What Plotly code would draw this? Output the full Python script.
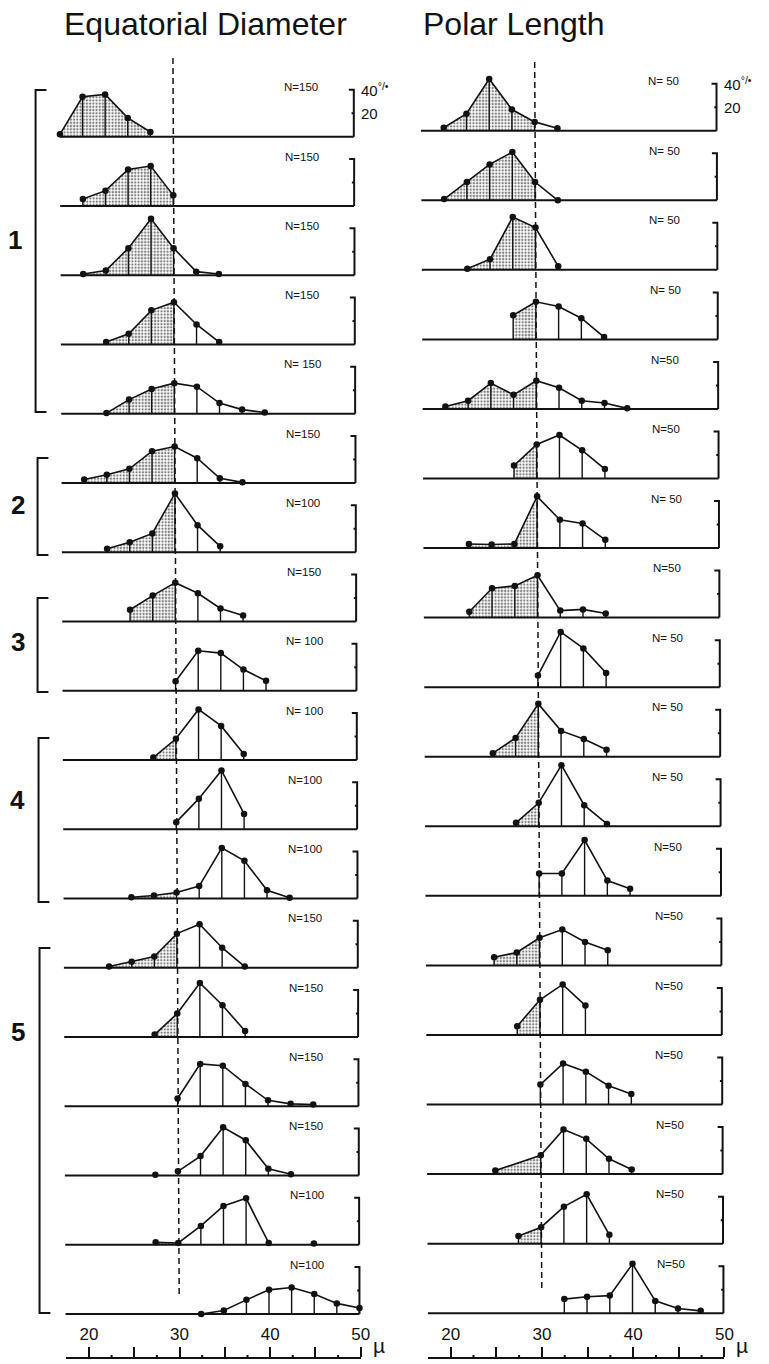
import plotly.graph_objects as go

W, H = 769, 1364

# ---------------- data (percent of grains per size class, microns) ----------------
eq_x = [
    [17.5, 20, 22.5, 25, 27.5],
    [20, 22.5, 25, 27.5, 30],
    [20, 22.5, 25, 27.5, 30, 32.5, 35],
    [22.5, 25, 27.5, 30, 32.5, 35],
    [22.5, 25, 27.5, 30, 32.5, 35, 37.5, 40],
    [20, 22.5, 25, 27.5, 30, 32.5, 35, 37.5],
    [22.5, 25, 27.5, 30, 32.5, 35],
    [25, 27.5, 30, 32.5, 35, 37.5],
    [30, 32.5, 35, 37.5, 40],
    [27.5, 30, 32.5, 35, 37.5],
    [30, 32.5, 35, 37.5],
    [25, 27.5, 30, 32.5, 35, 37.5, 40, 42.5],
    [22.5, 25, 27.5, 30, 32.5, 35, 37.5],
    [27.5, 30, 32.5, 35, 37.5],
    [30, 32.5, 35, 37.5, 40, 42.5, 45],
    [27.5, None, 30, 32.5, 35, 37.5, 40, 42.5],
    [27.5, 30, 32.5, 35, 37.5, 40, None, 45],
    [32.5, 35, 37.5, 40, 42.5, 45, 47.5, 50],
]
eq_y = [
    [2, 34, 36, 16, 4],
    [6, 13, 31, 34, 9],
    [1, 4, 23, 48, 23, 3, 1],
    [2, 9, 29, 36, 17, 2],
    [0.5, 12, 21, 26, 23, 9, 3.5, 1],
    [3, 7, 12, 27, 31, 21, 4, 0.5],
    [3, 8.5, 16, 50, 23, 5],
    [10, 22, 33, 24, 11, 5],
    [8, 34, 32, 18, 8.5],
    [2, 18, 43, 29, 5],
    [6, 26, 50, 13],
    [1, 2.5, 5, 10.5, 43, 32, 7, 0.5],
    [1, 5, 9.5, 29, 37, 17, 1],
    [2, 20, 46, 27, 5],
    [6.5, 36, 34.5, 19, 5, 2, 1.5],
    [0.5, None, 3.5, 16.5, 41, 30, 5.7, 1],
    [2, 1.5, 16, 33, 39.5, 1.5, None, 1],
    [0, 3, 12, 20.5, 22.5, 17, 9, 5],
]
eq_n = ["N=150", "N=150", "N=150", "N=150", "N= 150", "N=150", "N=100", "N=150",
        "N= 100", "N= 100", "N=100", "N=100", "N=150", "N=150", "N=150", "N=150",
        "N=100", "N=100"]

pl_x = [
    [20, 22.5, 25, 27.5, 30, 32.5],
    [20, 22.5, 25, 27.5, 30, 32.5],
    [22.5, 25, 27.5, 30, 32.5],
    [27.5, 30, 32.5, 35, 37.5],
    [20, 22.5, 25, 27.5, 30, 32.5, 35, 37.5, 40],
    [27.5, 30, 32.5, 35, 37.5],
    [22.5, 25, 27.5, 30, 32.5, 35, 37.5],
    [22.5, 25, 27.5, 30, 32.5, 35, 37.5],
    [30, 32.5, 35, 37.5],
    [25, 27.5, 30, 32.5, 35, 37.5],
    [27.5, 30, 32.5, 35, 37.5],
    [30, 32.5, 35, 37.5, 40],
    [25, 27.5, 30, 32.5, 35, 37.5],
    [27.5, 30, 32.5, 35],
    [30, 32.5, 35, 37.5, 40],
    [25, 30, 32.5, 35, 37.5, 40],
    [27.5, 30, 32.5, 35, 37.5],
    [32.5, 35, 37.5, 40, 42.5, 45, 47.5],
]
pl_y = [
    [2.5, 14.5, 44, 18, 7.5, 2],
    [1, 15.5, 30.5, 41, 15.5, 0],
    [1, 9, 45, 36, 3],
    [20.5, 32, 28, 18, 2],
    [2, 7, 22, 12, 24, 18, 7, 5, 0.5],
    [11, 29, 37, 24, 8],
    [3.5, 3, 3.5, 44, 24, 21, 7],
    [5, 25, 27, 36, 6, 7, 3.5],
    [10, 47, 33, 12],
    [3, 16, 45, 22, 15, 6],
    [3, 20, 52, 18, 2],
    [19, 19, 47.5, 13, 6],
    [7, 11, 23.5, 30.5, 20, 13],
    [7.5, 30, 43, 25],
    [17, 35, 28, 16, 9],
    [3, 16, 38, 30, 13, 4],
    [6.5, 14, 31.5, 42, 7.5],
    [12, 14, 15, 42, 10.5, 4, 2],
]
pl_n = ["N= 50", "N= 50", "N= 50", "N= 50", "N=50", "N=50", "N= 50", "N=50", "N= 50",
        "N= 50", "N= 50", "N=50", "N=50", "N=50", "N=50", "N=50", "N=50", "N=50"]

titles = ["Equatorial Diameter", "Polar Length"]
groups = ["1", "2", "3", "4", "5"]
label_ticks = [20, 30, 40, 50]
mid_ticks = [25, 35, 45]
small_ticks = [22.5, 27.5, 32.5, 37.5, 42.5, 47.5]
SPLIT = 30  # stippled below this size

# ---------------- geometry (page pixels) ----------------
INK = "#121212"
FONT = "Liberation Sans, Arial, sans-serif"
cols = [
    dict(base0=136.7, step=69.25, x30_top=175.0, x30_bot=180.7, s=9.15),
    dict(base0=130.7, step=69.56, x30_top=541.0, x30_bot=548.0, s=9.2),
]
PPCT = 1.175
XR = (15.0, 52.0)
YR = (-4.0, 54.0)
NR = 18


def px(xp):
    return xp / W


def py(yp):
    return 1 - yp / H


fig = go.Figure()
layout = {}
shapes = []
annotations = []

datasets = [(eq_x, eq_y, eq_n), (pl_x, pl_y, pl_n)]

for c in range(2):
    g = cols[c]
    xs_all, ys_all, ns = datasets[c]
    for i in range(NR):
        k = i * 2 + c + 1
        xn = "x" if k == 1 else f"x{k}"
        yn = "y" if k == 1 else f"y{k}"
        xa = "xaxis" if k == 1 else f"xaxis{k}"
        ya = "yaxis" if k == 1 else f"yaxis{k}"
        x30 = g["x30_top"] + (g["x30_bot"] - g["x30_top"]) * i / (NR - 1)
        base = g["base0"] + g["step"] * i
        s = g["s"]
        dx = [px(x30 + (XR[0] - 30) * s), px(x30 + (XR[1] - 30) * s)]
        dy = [py(base - YR[0] * PPCT), py(base - YR[1] * PPCT)]
        layout[xa] = dict(domain=dx, range=list(XR), visible=False, fixedrange=True, anchor=yn)
        layout[ya] = dict(domain=dy, range=list(YR), visible=False, fixedrange=True, anchor=xn)

        xs, ys = xs_all[i], ys_all[i]
        segs, cur = [], []
        for a, b in zip(xs, ys):
            if a is None:
                if cur:
                    segs.append(cur)
                cur = []
            else:
                cur.append((a, b))
        if cur:
            segs.append(cur)
        # stippled fill (part below SPLIT)
        for seg in segs:
            pts = [p for p in seg if p[0] <= SPLIT]
            if len(pts) >= 2:
                fig.add_trace(go.Scatter(
                    x=[p[0] for p in pts], y=[p[1] for p in pts], xaxis=xn, yaxis=yn,
                    mode="none", fill="tozeroy", fillcolor="white",
                    fillpattern=dict(shape=".", fgcolor="#000000", bgcolor="white",
                                     size=3.2, solidity=0.42),
                    hoverinfo="skip", showlegend=False))
        # vertical drop lines
        vx, vy = [], []
        for seg in segs:
            for a, b in seg:
                vx += [a, a, None]
                vy += [0, b, None]
        fig.add_trace(go.Scatter(x=vx, y=vy, xaxis=xn, yaxis=yn, mode="lines",
                                 line=dict(color=INK, width=1.4), hoverinfo="skip",
                                 showlegend=False))
        # frequency polygon
        fig.add_trace(go.Scatter(x=xs, y=ys, xaxis=xn, yaxis=yn, mode="lines+markers",
                                 connectgaps=False, cliponaxis=False,
                                 line=dict(color=INK, width=1.6),
                                 marker=dict(color=INK, size=6.5),
                                 hoverinfo="skip", showlegend=False))
        # baseline and percent bracket
        shapes.append(dict(type="line", xref=xn, yref=yn, x0=17.5, x1=50, y0=0, y1=0,
                           line=dict(color=INK, width=2)))
        shapes.append(dict(type="path", xref=xn, yref=yn,
                           path="M 49.45 40 L 50 40 L 50 0",
                           line=dict(color=INK, width=2)))
        shapes.append(dict(type="line", xref=xn, yref=yn, x0=49.75, x1=50, y0=20, y1=20,
                           line=dict(color=INK, width=2)))
        annotations.append(dict(xref=xn, yref=yn, x=44.2, y=42, text=ns[i], showarrow=False,
                                xanchor="center", yanchor="middle",
                                font=dict(family=FONT, size=11.5, color=INK)))
        if i == 0:
            annotations.append(dict(xref=xn, yref=yn, x=50.55, y=40, xanchor="left",
                                    yanchor="middle", text="40<sup>°/•</sup>", showarrow=False,
                                    font=dict(family=FONT, size=15, color=INK)))
            annotations.append(dict(xref=xn, yref=yn, x=50.55, y=20, xanchor="left",
                                    yanchor="middle", text="20", showarrow=False,
                                    font=dict(family=FONT, size=15, color=INK)))

# ---------------- bottom scale axes ----------------
bottom = [
    dict(k=37, x0=67.1, x1=365.0, line=1359),
    dict(k=38, x0=432.9, x1=733.0, line=1359),
]
for b in bottom:
    k = b["k"]
    layout[f"xaxis{k}"] = dict(
        domain=[px(b["x0"]), px(b["x1"])], range=[17.5, 50], anchor=f"y{k}", side="top",
        showline=True, linecolor=INK, linewidth=2, showgrid=False, zeroline=False,
        ticks="outside", ticklen=10, tickwidth=2, tickcolor=INK,
        tickvals=label_ticks, ticktext=[str(v) for v in label_ticks],
        tickfont=dict(family=FONT, size=17, color=INK),
        minor=dict(tickvals=mid_ticks, ticks="outside", ticklen=10, tickwidth=2,
                   tickcolor=INK, showgrid=False),
        fixedrange=True)
    layout[f"yaxis{k}"] = dict(domain=[py(b["line"] + 4), py(b["line"])], range=[0, 1],
                               visible=False, anchor=f"x{k}", fixedrange=True)
    fig.add_trace(go.Scatter(x=[30], y=[0.5], xaxis=f"x{k}", yaxis=f"y{k}", mode="markers",
                             marker=dict(opacity=0), hoverinfo="skip", showlegend=False))
    for t in small_ticks:
        shapes.append(dict(type="line", xref=f"x{k}", yref="paper", x0=t, x1=t,
                           y0=py(b["line"]), y1=py(b["line"] - 4),
                           line=dict(color=INK, width=2)))
    annotations.append(dict(xref="paper", yref="paper", x=px(b["x1"] + 10),
                            y=py(b["line"] - 14), xanchor="left", yanchor="middle",
                            text="µ", showarrow=False,
                            font=dict(family=FONT, size=21, color=INK)))

# ---------------- dashed 30 µ reference lines ----------------
for (xt, yt, xb, yb) in [(175.0, 58, 181.3, 1296), (541.0, 62, 548.2, 1292)]:
    shapes.append(dict(type="line", xref="paper", yref="paper",
                       x0=px(xt), y0=py(yt), x1=px(xb), y1=py(yb),
                       line=dict(color=INK, width=1.5, dash="6px,4px")))

# ---------------- titles ----------------
for t, cx in zip(titles, [208, 520]):
    annotations.append(dict(xref="paper", yref="paper", x=px(cx), y=py(24), text=t,
                            xanchor="center", yanchor="middle",
                            showarrow=False, font=dict(family=FONT, size=32, color=INK)))

# ---------------- group brackets ----------------
brackets = [(36, 90, 412, 15, 240), (38, 458, 555, 18, 505), (38, 598, 692, 18, 642),
            (39, 738, 902, 18, 800), (40, 948, 1313, 18, 1032)]
for g_lbl, (bx, bt, bb, lx, ly) in zip(groups, brackets):
    shapes.append(dict(type="path", xref="paper", yref="paper",
                       path=f"M {px(bx + 11)} {py(bt)} L {px(bx)} {py(bt)} L {px(bx)} {py(bb)} L {px(bx + 11)} {py(bb)}",
                       line=dict(color=INK, width=2)))
    annotations.append(dict(xref="paper", yref="paper", x=px(lx), y=py(ly), text=f"<b>{g_lbl}</b>",
                            xanchor="center", yanchor="middle",
                            showarrow=False, font=dict(family=FONT, size=26, color=INK)))

fig.update_layout(
    width=W, height=H, margin=dict(l=0, r=0, t=0, b=0),
    paper_bgcolor="white", plot_bgcolor="rgba(0,0,0,0)",
    showlegend=False, shapes=shapes, annotations=annotations, **layout)

fig.write_html("out.html", config={"displayModeBar": False},
               post_script="document.body.style.margin='0';document.body.style.overflow='hidden';")
